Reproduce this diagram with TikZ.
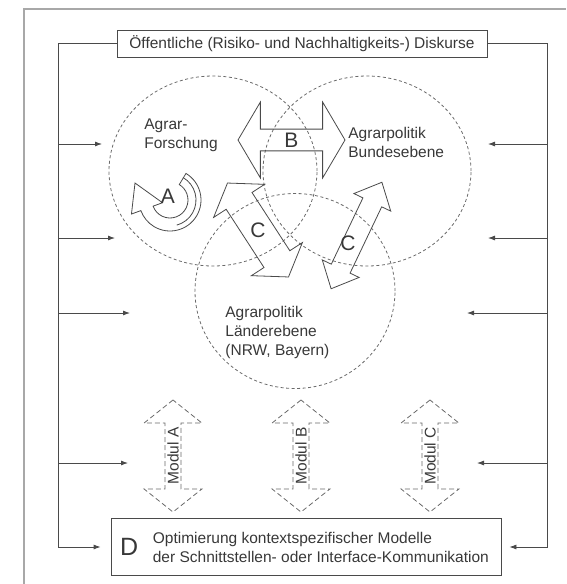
\documentclass[tikz,border=0pt]{standalone}
\usepackage{fontspec}
\setmainfont{Liberation Sans}
\usetikzlibrary{arrows.meta}
\usetikzlibrary{positioning,shapes.geometric,shapes.arrows}
\definecolor{linegray}{HTML}{4A4A4A}
\definecolor{zonegray}{HTML}{6A6A6A}
\definecolor{framegray}{HTML}{A8A8A8}
\definecolor{textgray}{HTML}{383838}
\newcommand\lblfont{\fontsize{15.5}{19}\selectfont}
\newcommand\bigfont{\fontsize{21}{21}\selectfont}
\tikzset{
	node distance=1cm,
	every path/.style = {line width=0.8pt},
	textbox/.style = {draw=linegray, rectangle, inner sep=0pt, text=textgray, font=\lblfont},
	zone/.style = {draw=zonegray, ellipse, inner sep=0pt, dash pattern=on 3pt off 2.5pt},
	zonetext/.style = {align=left, anchor=west, inner sep=0pt, text=textgray, font=\lblfont},
	bigletter/.style = {inner sep=0pt, text=textgray, font=\bigfont},
	blockarrow/.style = {draw=linegray, double arrow, inner sep=0pt},
	modarrow/.style = {draw=zonegray, double arrow, inner sep=0pt, rotate=90,
		dash pattern=on 5pt off 3pt, minimum height=112pt, minimum width=58pt,
		double arrow head extend=16pt, double arrow tip angle=103,
		text=textgray, font=\lblfont},
	feed/.style = {draw=linegray, -{Latex[length=7pt,width=5pt]}}
}

\begin{document}
\begin{tikzpicture}[x=1pt, y=-1pt]
	\useasboundingbox (0,0) rectangle (566,584);
	% outer frame
	\draw[framegray, line width=2pt] (24,584) -- (24,9) -- (566,9);

	\node (diskurs) [textbox, minimum width=370pt, minimum height=27pt] at (302,43.5) {Öffentliche (Risiko- und Nachhaltigkeits-) Diskurse};
	\node (optim) [textbox, minimum width=390pt, minimum height=57pt] at (306,547) {};
	\node (dletter) [bigletter, font=\fontsize{25}{25}\selectfont, right=9pt of optim.west] {D};
	\node (dtext) [zonetext, right=14pt of dletter] {Optimierung kontextspezifischer Modelle\\der Schnittstellen- oder Interface-Kommunikation};

	% the three fields
	\node (forsch) [zone, minimum width=208pt, minimum height=190pt] at (213,171) {};
	\node (bund) [zone, minimum width=208pt, minimum height=190pt] at (367,171) {};
	\node (laender) [zone, minimum width=200pt, minimum height=195pt] at (295,291) {};
	\node (forschtext) [zonetext] at (144,135) {Agrar-\\Forschung};
	\node (bundtext) [zonetext] at (348,142) {Agrarpolitik\\Bundesebene};
	\node (laendertext) [zonetext] at (225,332) {Agrarpolitik\\Länderebene\\(NRW, Bayern)};

	% block arrows
	\node (barrow) [blockarrow, bigletter, minimum height=107pt, minimum width=76pt, double arrow head extend=19pt, double arrow tip angle=119] at (291.5,140) {B};
	\node (cleft) [blockarrow, rotate=-57, minimum height=112pt, minimum width=60pt, double arrow head extend=15pt, double arrow tip angle=110] at (258,230) {\rule{0pt}{30pt}};
	\node (cleftlabel) [bigletter] at (cleft) {C};
	\node (cright) [blockarrow, rotate=64.5, minimum height=118pt, minimum width=40pt, double arrow head extend=10pt, double arrow tip angle=85] at (356.5,235.5) {\rule{0pt}{20pt}};
	\node (crightlabel) [bigletter] at (348,243) {C};

	% curved arrow A
	\draw[linegray, shift={(170,200)}] (-59:31) arc[start angle=-59, end angle=160, radius=31]
		-- (160:41) -- (-35,-17) -- (160:8) -- (160:18)
		arc[start angle=160, end angle=-59, radius=18] -- cycle;
	\draw[linegray, shift={(170,200)}] (-60:26) arc[start angle=-60, end angle=75, radius=26];
	\node (alabel) [bigletter] at (168,196) {A};

	% modules
	\node (moda) [modarrow] at (173,456) {Modul A};
	\node (modb) [modarrow] at (301,456) {Modul B};
	\node (modc) [modarrow] at (430,456) {Modul C};

	% feedback loop
	\coordinate (lefttop) at (58,43.5);
	\coordinate (leftbot) at (58,547);
	\coordinate (righttop) at (547,43.5);
	\coordinate (rightbot) at (547,547);
	\draw[feed, shorten >=10pt] (diskurs.west) -- (lefttop) -- (leftbot) -- (optim.west);
	\draw[feed, shorten >=8pt] (diskurs.east) -- (righttop) -- (rightbot) -- (optim.east);

	\coordinate (fa1) at (102,144);
	\coordinate (fa2) at (115,238);
	\coordinate (fa3) at (130,313);
	\coordinate (fa4) at (128,463);
	\coordinate (fb1) at (488,144);
	\coordinate (fb2) at (488,238);
	\coordinate (fb3) at (467,313);
	\coordinate (fb4) at (477,463);
	\draw[feed] (lefttop |- fa1) -- (fa1);
	\draw[feed] (lefttop |- fa2) -- (fa2);
	\draw[feed] (lefttop |- fa3) -- (fa3);
	\draw[feed] (lefttop |- fa4) -- (fa4);
	\draw[feed] (righttop |- fb1) -- (fb1);
	\draw[feed] (righttop |- fb2) -- (fb2);
	\draw[feed] (righttop |- fb3) -- (fb3);
	\draw[feed] (righttop |- fb4) -- (fb4);
\end{tikzpicture}
\end{document}
